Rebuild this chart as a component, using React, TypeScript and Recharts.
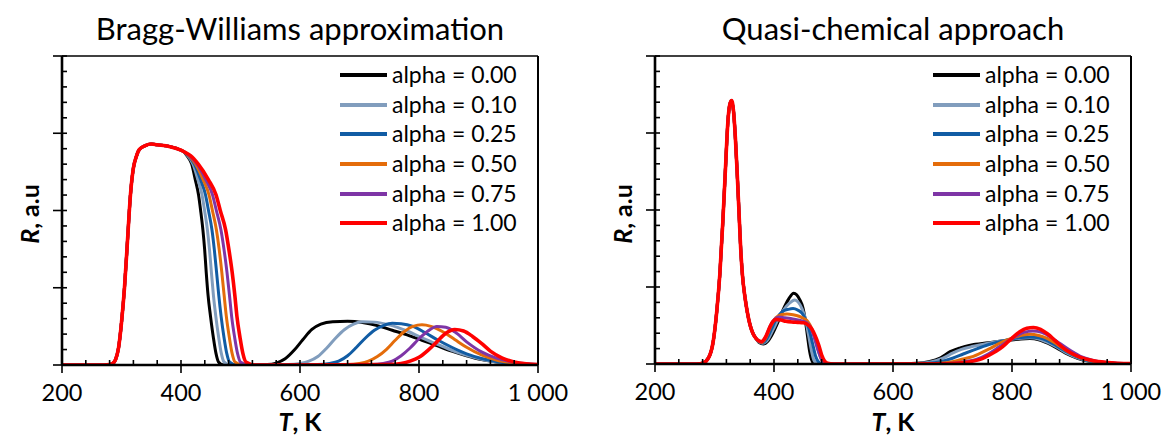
import React from 'react'
import { LineChart, Line, XAxis, YAxis, ReferenceLine } from 'recharts'

type Pt = [number, number]

const alphaLabels = ['alpha = 0.00', 'alpha = 0.10', 'alpha = 0.25', 'alpha = 0.50', 'alpha = 0.75', 'alpha = 1.00']
const colors = ['#000000', '#819DBD', '#115CA4', '#E46C0A', '#7E35A6', '#FF0000']

const xTicks = [200, 240, 280, 320, 360, 400, 440, 480, 520, 560, 600, 640, 680, 720, 760, 800, 840, 880, 920, 960, 1000]
const xMajorLabels: Record<number, string> = { 200: '200', 400: '400', 600: '600', 800: '800', 1000: '1 000' }
const yTicks = [0, 0.2, 0.4, 0.6, 0.8, 1, 1.2, 1.4, 1.6, 1.8, 2, 2.2, 2.4, 2.6, 2.8, 3, 3.2, 3.4, 3.6, 3.8, 4]

// Bragg-Williams: common rise, then per-alpha drop + high-T bump
const bwRise: Pt[] = [
  [200, 0], [270, 0], [280, 0.005], [285, 0.02], [290, 0.07], [295, 0.22], [300, 0.55], [305, 1.0], [310, 1.6],
  [315, 2.2], [320, 2.55], [325, 2.7], [330, 2.79], [340, 2.84], [350, 2.86], [360, 2.85], [380, 2.83], [400, 2.78], [405, 2.76],
]
const bw000: Pt[] = [
  [410, 2.71], [418, 2.6], [424, 2.4], [429.5, 2.2], [433, 2.0], [436.8, 1.75], [439.7, 1.5], [442.4, 1.2], [445.5, 0.9],
  [449.6, 0.63], [454.5, 0.35], [458.8, 0.15], [463, 0.04], [472, 0],
  [520, 0], [545, 0.005], [560, 0.025], [575, 0.08], [590, 0.19], [605, 0.33], [620, 0.46], [635, 0.53], [655, 0.56], [680, 0.565],
  [705, 0.55], [730, 0.51], [755, 0.45], [780, 0.39], [805, 0.32], [830, 0.25], [855, 0.18], [880, 0.12], [905, 0.07], [930, 0.04],
  [960, 0.015], [1000, 0.003],
]
const bw010: Pt[] = [
  [411, 2.71], [420.2, 2.6], [428.4, 2.4], [435.4, 2.2], [439.6, 2.0], [444.4, 1.75], [447.8, 1.5], [451.1, 1.2], [454.5, 0.9],
  [458.5, 0.63], [463.5, 0.35], [467.8, 0.15], [472.2, 0.04], [482.6, 0],
  [530, 0], [580, 0.005], [600, 0.02], [615, 0.05], [630, 0.11], [645, 0.22], [660, 0.35], [675, 0.46], [690, 0.53], [705, 0.56],
  [725, 0.555], [750, 0.52], [780, 0.44], [805, 0.35], [830, 0.27], [855, 0.19], [880, 0.125], [905, 0.075], [930, 0.04],
  [960, 0.015], [1000, 0.003],
]
const bw025: Pt[] = [
  [412, 2.71], [422.4, 2.6], [432.8, 2.4], [441.3, 2.2], [446.2, 2.0], [452, 1.75], [455.9, 1.5], [459.8, 1.2], [463.5, 0.9],
  [467.4, 0.63], [472.4, 0.35], [476.9, 0.15], [481.4, 0.04], [493.2, 0],
  [540, 0], [630, 0.005], [650, 0.02], [665, 0.05], [680, 0.12], [695, 0.23], [710, 0.35], [725, 0.45], [740, 0.51], [755, 0.54],
  [770, 0.535], [790, 0.5], [810, 0.42], [830, 0.33], [855, 0.23], [880, 0.145], [905, 0.085], [930, 0.045], [960, 0.017], [1000, 0.003],
]
const bw050: Pt[] = [
  [413, 2.71], [424.6, 2.6], [437.2, 2.4], [447.2, 2.2], [452.8, 2.0], [459.5, 1.75], [464.1, 1.5], [468.6, 1.2], [472.5, 0.9],
  [476.2, 0.63], [481.4, 0.35], [485.9, 0.15], [490.6, 0.04], [503.8, 0],
  [550, 0], [680, 0.005], [700, 0.02], [715, 0.05], [730, 0.11], [745, 0.2], [760, 0.32], [775, 0.43], [790, 0.5], [805, 0.52],
  [820, 0.5], [840, 0.43], [860, 0.33], [880, 0.23], [905, 0.13], [930, 0.065], [960, 0.025], [1000, 0.004],
]
const bw075: Pt[] = [
  [414, 2.71], [426.8, 2.6], [441.6, 2.4], [453.1, 2.2], [459.4, 2.0], [467.1, 1.75], [472.2, 1.5], [477.3, 1.2], [481.5, 0.9],
  [485.1, 0.63], [490.3, 0.35], [495, 0.15], [499.8, 0.04], [514.4, 0],
  [560, 0], [720, 0.005], [740, 0.02], [755, 0.05], [770, 0.12], [785, 0.22], [800, 0.34], [815, 0.44], [830, 0.5], [845, 0.49],
  [860, 0.43], [880, 0.3], [905, 0.17], [930, 0.09], [960, 0.035], [1000, 0.005],
]
const bw100: Pt[] = [
  [416, 2.71], [429, 2.6], [446, 2.4], [459, 2.2], [466, 2.0], [475, 1.75], [480.4, 1.5], [486, 1.2], [490.5, 0.9],
  [494, 0.63], [499.3, 0.35], [504, 0.15], [509, 0.04], [525, 0],
  [570, 0], [750, 0.005], [770, 0.02], [785, 0.05], [800, 0.1], [815, 0.19], [830, 0.3], [845, 0.41], [860, 0.46], [875, 0.44],
  [890, 0.37], [905, 0.28], [920, 0.18], [940, 0.09], [960, 0.04], [980, 0.015], [1000, 0.005],
]

// Quasi-chemical: common sharp peak, then per-alpha middle and high-T bumps
const qcPeak: Pt[] = [
  [200, 0], [270, 0], [280, 0.01], [290, 0.08], [298, 0.3], [304, 0.7], [309, 1.17], [314, 1.85], [318, 2.47], [323, 3.2],
  [326, 3.38], [329, 3.42], [332, 3.28], [335, 2.95], [338, 2.5], [341, 2.0], [344, 1.5], [347, 1.15], [351, 0.88], [355, 0.68],
  [360, 0.5], [365, 0.39], [370, 0.33],
]
const qc000: Pt[] = [
  [375, 0.28], [382, 0.26], [390, 0.3], [398, 0.4], [407, 0.55], [415, 0.7], [425, 0.85], [433, 0.92], [438, 0.9], [443, 0.84],
  [449, 0.72], [453, 0.55], [456, 0.38], [460, 0.16], [464, 0.04], [468, 0.005], [480, 0],
  [600, 0.002], [640, 0.01], [660, 0.03], [680, 0.08], [696, 0.16], [713, 0.21], [730, 0.245], [760, 0.275], [790, 0.305],
  [815, 0.325], [830, 0.33], [845, 0.315], [860, 0.27], [875, 0.21], [890, 0.14], [910, 0.075], [930, 0.035], [960, 0.01], [1000, 0.002],
]
const qc010: Pt[] = [
  [375, 0.285], [381, 0.27], [390, 0.32], [398, 0.44], [407, 0.58], [416, 0.7], [426, 0.79], [435, 0.83], [441, 0.8], [447, 0.72],
  [453, 0.58], [458, 0.38], [463, 0.17], [467, 0.05], [472, 0.01], [480, 0],
  [600, 0.002], [645, 0.01], [665, 0.03], [685, 0.08], [700, 0.14], [715, 0.19], [735, 0.23], [760, 0.27], [790, 0.31],
  [815, 0.335], [830, 0.34], [845, 0.325], [860, 0.28], [875, 0.22], [890, 0.15], [910, 0.08], [930, 0.038], [960, 0.011], [1000, 0.002],
]
const qc025: Pt[] = [
  [375, 0.29], [380, 0.275], [388, 0.33], [396, 0.46], [405, 0.6], [414, 0.68], [424, 0.71], [432, 0.72], [440, 0.7], [447, 0.66],
  [453, 0.58], [459, 0.45], [465, 0.26], [470, 0.1], [475, 0.025], [480, 0.005], [490, 0],
  [620, 0.002], [660, 0.01], [680, 0.03], [700, 0.075], [718, 0.13], [735, 0.18], [760, 0.25], [790, 0.31], [815, 0.345],
  [830, 0.35], [845, 0.34], [860, 0.3], [875, 0.235], [890, 0.165], [910, 0.09], [930, 0.042], [960, 0.012], [1000, 0.002],
]
const qc050: Pt[] = [
  [375, 0.29], [380, 0.28], [387, 0.35], [395, 0.5], [403, 0.6], [412, 0.64], [422, 0.65], [432, 0.64], [442, 0.62], [450, 0.59],
  [457, 0.55], [464, 0.45], [470, 0.3], [476, 0.14], [481, 0.04], [486, 0.01], [495, 0],
  [640, 0.002], [680, 0.01], [700, 0.03], [718, 0.065], [735, 0.1], [760, 0.19], [785, 0.29], [810, 0.36], [830, 0.385],
  [845, 0.37], [860, 0.33], [875, 0.26], [890, 0.18], [910, 0.1], [930, 0.048], [960, 0.014], [1000, 0.002],
]
const qc075: Pt[] = [
  [375, 0.295], [379, 0.285], [386, 0.35], [394, 0.5], [401, 0.58], [408, 0.61], [418, 0.6], [428, 0.59], [438, 0.575], [447, 0.56],
  [454, 0.54], [461, 0.48], [467, 0.36], [473, 0.2], [479, 0.07], [484, 0.02], [490, 0.005], [500, 0],
  [660, 0.002], [700, 0.01], [720, 0.03], [740, 0.06], [760, 0.13], [780, 0.23], [800, 0.33], [820, 0.41], [835, 0.43],
  [850, 0.41], [865, 0.35], [880, 0.27], [895, 0.19], [915, 0.1], [935, 0.05], [960, 0.018], [1000, 0.003],
]
const qc100: Pt[] = [
  [375, 0.3], [379, 0.29], [385, 0.34], [393, 0.48], [398, 0.55], [404, 0.58], [412, 0.57], [420, 0.555], [430, 0.545], [440, 0.54],
  [449, 0.535], [455, 0.52], [463, 0.46], [469, 0.37], [475, 0.25], [480, 0.12], [485, 0.04], [490, 0.01], [500, 0],
  [680, 0.002], [707, 0.01], [730, 0.03], [750, 0.07], [763, 0.12], [780, 0.2], [795, 0.3], [813, 0.42], [825, 0.465],
  [836, 0.475], [848, 0.45], [860, 0.39], [873, 0.3], [886, 0.21], [900, 0.14], [914, 0.09], [935, 0.045], [960, 0.02], [1000, 0.005],
]

const bwSeries = [bw000, bw010, bw025, bw050, bw075, bw100].map(tail => [...bwRise, ...tail])
const qcSeries = [qc000, qc010, qc025, qc050, qc075, qc100].map(tail => [...qcPeak, ...tail])

const FONT = 'Lato, "Open Sans", sans-serif'

const XTick = (props: any) => {
  const { x, y, payload } = props
  const label = xMajorLabels[payload.value]
  return (
    <g>
      <line x1={x} x2={x} y1={y - 5} y2={label ? y + 8 : y} stroke="#000" strokeWidth={1.6} />
      {label && (
        <text x={x} y={y + 36} textAnchor="middle" fontFamily={FONT} fontSize={23.5} fill="#000">{label}</text>
      )}
    </g>
  )
}

const YTick = (props: any) => {
  const { x, y, payload } = props
  const major = Math.abs(payload.value - Math.round(payload.value)) < 1e-6
  return <line x1={major ? x - 9 : x} x2={x + 5} y1={y} y2={y} stroke="#000" strokeWidth={1.6} />
}

function LegendBox({ top, left }: { top: number; left: number }) {
  return (
    <div style={{ position: 'absolute', top, left, fontFamily: FONT, fontSize: 23, color: '#000' }}>
      {alphaLabels.map((name, i) => (
        <div key={name} style={{ display: 'flex', alignItems: 'center', height: 29.7 }}>
          <div style={{ width: 47, height: 4, background: colors[i], marginRight: 5 }} />
          <span style={{ lineHeight: '29.7px', whiteSpace: 'nowrap' }}>{name}</span>
        </div>
      ))}
    </div>
  )
}

const Y_AXIS_W = 20
const X_AXIS_H = 40

function Panel({ series, left, width, plot, title }: {
  series: Pt[][]; left: number; width: number; plot: { l: number; r: number; t: number; b: number }; title: string
}) {
  const cx = (plot.l + plot.r) / 2
  const margin = { top: plot.t, left: plot.l - Y_AXIS_W, right: width - plot.r, bottom: 436 - plot.b - X_AXIS_H }
  return (
    <div style={{ position: 'absolute', left, top: 0, width, height: 436 }}>
      <div style={{ position: 'absolute', left: cx - 300, width: 600, top: 8, textAlign: 'center', fontFamily: FONT, fontSize: 31, lineHeight: '40px' }}>
        {title}
      </div>
      <LineChart width={width} height={436} margin={margin}>
        <XAxis
          dataKey="T" type="number" domain={[200, 1000]} ticks={xTicks} interval={0} allowDataOverflow
          height={X_AXIS_H} tickSize={0} tickMargin={0} tick={<XTick />} tickLine={false}
          axisLine={{ stroke: '#000', strokeWidth: 2.6 }}
        />
        <YAxis
          type="number" domain={[0, 4]} ticks={yTicks} interval={0} allowDataOverflow
          width={Y_AXIS_W} tickSize={0} tickMargin={0} tick={<YTick />} tickLine={false}
          axisLine={{ stroke: '#000', strokeWidth: 2.6 }}
        />
        <ReferenceLine y={4} stroke="#000" strokeWidth={1.6} ifOverflow="visible" />
        <ReferenceLine x={1000} stroke="#000" strokeWidth={2} ifOverflow="visible" />
        {series.map((pts, i) => (
          <Line
            key={alphaLabels[i]}
            data={pts.map(([T, R]) => ({ T, R }))}
            dataKey="R"
            name={alphaLabels[i]}
            type="monotone"
            stroke={colors[i]}
            strokeWidth={i === 5 ? 3.6 : 3}
            dot={false}
            activeDot={false}
            isAnimationActive={false}
          />
        ))}
      </LineChart>
      <LegendBox top={60} left={plot.r - 198} />
      <div style={{ position: 'absolute', left: cx - 60, width: 120, top: 406, textAlign: 'center', fontFamily: FONT, fontSize: 25, fontWeight: 700, lineHeight: '30px' }}>
        <i>T</i>, K
      </div>
      <div style={{ position: 'absolute', left: plot.l - 98, top: 199, width: 130, textAlign: 'center', fontFamily: FONT, fontSize: 25, fontWeight: 700, lineHeight: '30px', transform: 'rotate(-90deg)' }}>
        <i>R</i>, a.u
      </div>
    </div>
  )
}

export default function App() {
  return (
    <div style={{ position: 'absolute', left: 0, top: 0, width: 1163, height: 436, background: '#fff', overflow: 'hidden' }}>
      <Panel series={bwSeries} left={0} width={580} plot={{ l: 62, r: 538, t: 56, b: 365 }} title="Bragg-Williams approximation" />
      <Panel series={qcSeries} left={580} width={583} plot={{ l: 75, r: 551, t: 56, b: 364 }} title="Quasi-chemical approach" />
    </div>
  )
}
